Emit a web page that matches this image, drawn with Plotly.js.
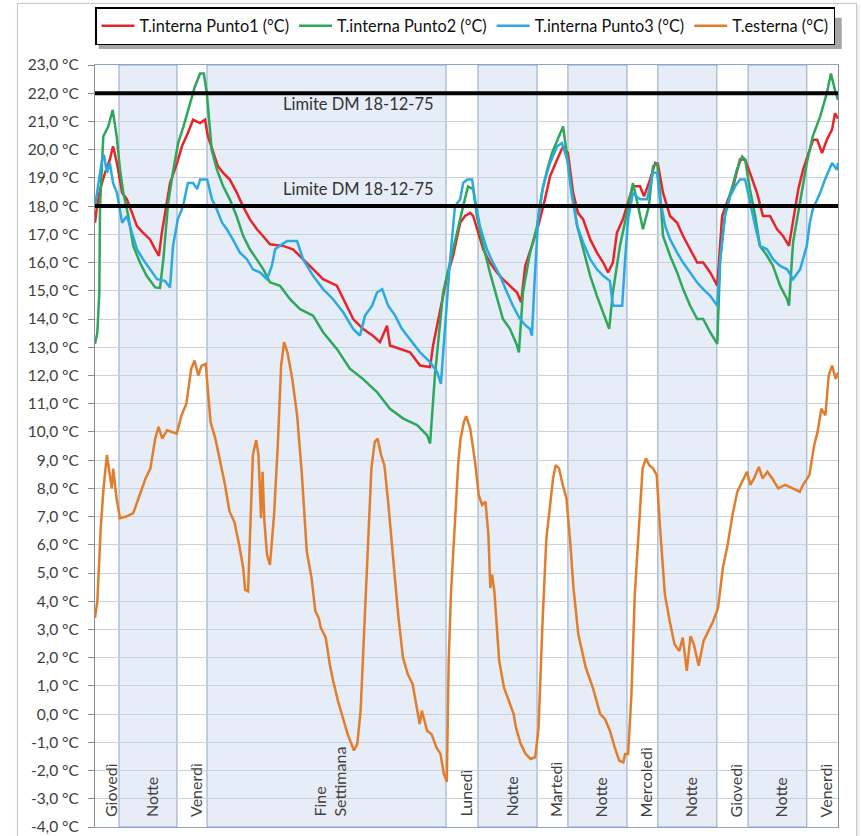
<!DOCTYPE html>
<html><head><meta charset="utf-8">
<script src="https://cdn.plot.ly/plotly-3.0.1.min.js"></script>
<style>
html,body{margin:0;padding:0;background:#fff;}
#frame{position:absolute;left:17px;top:3px;width:838px;height:850px;border:1px solid #c9c9c9;box-shadow:1px 1px 3px rgba(0,0,0,0.15);}
#chart{position:absolute;left:0;top:0;width:861px;height:836px;}
</style></head>
<body>
<div id="frame"></div>
<div id="chart"></div>
<script>
// ---- data (x = hours from start of recording) ----
const ore_p1 = [0,0.54,1.35,2.7,4.0,4.85,5.9,7.3,8.6,10.0,11.3,12.9,14.8,16.2,17.2,18.0,18.8,20.2,22.1,23.4,25.0,26.4,28.3,29.6,30.4,31.8,33.1,34.5,36.3,38.2,39.8,41.7,43.6,45.2,47.1,50.6,53.3,56.0,58.7,61.4,65.1,66.8,69.5,72.1,74.8,76.7,78.6,79.4,82.1,84.8,87.5,90.2,91.0,92.9,94.8,96.4,98.3,99.6,101.0,101.8,102.8,104.5,106.3,108.2,109.8,111.7,113.6,114.7,115.8,117.6,119.3,121.1,122.5,124.4,126.0,127.3,128.7,130.0,131.4,133.3,135.1,136.8,138.1,139.4,140.5,142.1,144.8,146.7,147.8,149.4,150.8,151.5,152.9,154.8,156.7,158.3,160.2,162.1,163.7,165.6,167.5,168.8,170.4,171.8,173.6,175.0,176.3,178.2,179.8,181.7,183.6,185.2,186.8,187.9,189.3,190.6,192.0,193.3,194.4,195.7,197.0,198.4,199.2,200];
const t_p1 = [17.41,18.0,18.59,19.18,19.65,20.12,19.53,18.47,18.24,17.76,17.29,17.06,16.82,16.47,16.24,17.06,17.76,18.82,19.53,20.12,20.59,21.06,20.94,21.06,20.47,19.88,19.41,19.18,18.94,18.47,18.0,17.53,17.18,16.94,16.65,16.59,16.47,16.12,15.76,15.41,15.18,14.7,14.0,13.65,13.41,13.18,13.76,13.06,12.94,12.82,12.35,12.3,13.06,14.24,15.53,16.24,17.41,17.65,17.76,17.65,17.18,16.47,16.0,15.65,15.41,15.18,14.94,14.59,15.88,16.59,17.29,18.24,19.06,19.65,20.12,19.88,18.47,17.76,17.53,16.82,16.35,16.0,15.65,16.0,17.06,17.53,18.7,18.7,18.35,18.94,19.53,19.5,18.47,17.65,17.41,16.94,16.47,16.0,16.0,15.65,15.18,17.65,18.24,18.7,19.65,19.65,19.18,18.47,17.65,17.65,17.18,16.94,16.59,17.53,18.59,19.29,19.88,20.35,20.35,19.88,20.35,20.71,21.29,21.1];

const ore_p2 = [0,0.62,1.16,1.35,2.23,3.58,4.76,5.84,6.73,7.62,8.96,10.3,12.1,13.9,16.2,17.5,18.4,19.7,21.1,22.4,23.8,25.6,26.9,28.3,29.3,30.1,31.4,32.8,34.5,36.3,38.1,39.9,41.7,43.5,45.3,47.1,49.8,52.5,55.2,58.7,61.4,65.1,68.6,72.1,75.9,79.4,83.0,86.7,89.4,90.2,91.5,93.7,96.1,97.5,99.1,100.4,101.8,102.8,104.5,106.3,108.2,109.8,111.7,113.6,114.1,115.2,117.1,119.0,120.3,121.7,123.0,124.4,126.0,127.1,128.4,129.8,131.4,133.3,135.1,136.8,138.4,139.4,141.3,143.2,144.8,146.2,147.5,149.1,150.2,151.3,152.1,152.9,154.8,156.7,158.3,160.2,162.1,163.7,165.6,167.5,168.3,169.6,171.0,172.8,174.2,175.0,176.3,177.7,179.0,180.9,182.5,184.4,186.3,186.8,187.9,189.8,191.6,193.2,195.2,197.0,198.1,199.2,200];
const t_p2 = [13.12,13.5,14.94,18.0,20.47,20.82,21.41,20.47,19.3,18.47,17.65,16.59,16.0,15.53,15.12,15.1,16.12,18.12,19.3,20.24,20.82,21.65,22.24,22.7,22.7,22.0,20.0,19.3,18.7,18.24,17.65,16.94,16.47,16.12,15.76,15.3,15.18,14.7,14.35,14.12,13.53,12.94,12.24,11.88,11.41,10.82,10.47,10.24,9.88,9.59,12.0,14.94,16.35,17.06,18.0,18.7,18.6,17.65,16.59,15.65,14.7,14.0,13.65,13.06,12.82,14.94,16.35,17.29,18.47,19.29,19.88,20.35,20.82,19.76,18.47,17.29,16.47,15.53,14.82,14.24,13.65,14.94,16.59,17.76,18.82,18.0,17.18,18.0,19.41,19.53,18.47,16.94,16.24,15.65,15.06,14.47,14.0,14.0,13.53,13.12,16.12,17.76,18.47,19.29,19.76,19.65,18.59,17.65,16.59,16.24,15.88,15.18,14.7,14.47,16.71,18.24,19.53,20.47,21.18,22.0,22.7,22.1,21.76];

const ore_p3 = [0,0.8,1.9,2.4,3.2,4.0,4.85,5.9,7.3,8.6,10.0,11.3,12.9,14.8,16.7,18.8,20.2,21.0,22.3,23.7,25.0,26.4,27.5,28.3,30.2,31.5,32.8,34.2,35.5,37.1,39.0,40.9,42.5,44.4,46.3,47.6,48.5,49.8,51.7,54.4,56.0,58.7,61.4,64.1,66.8,69.5,71.3,72.7,74.6,75.9,77.3,78.9,80.8,82.6,84.8,87.5,90.2,92.1,93.1,94.2,95.6,96.9,98.3,99.1,100.2,101.5,102.3,103.6,105.5,107.1,109.0,110.9,112.5,114.4,116.0,117.1,117.6,118.4,119.3,120.6,122.5,124.4,125.7,127.1,128.4,129.8,131.4,133.3,135.1,136.8,138.6,139.4,141.9,142.7,143.5,144.8,146.7,148.6,150.2,151.3,152.1,153.5,154.8,156.7,158.3,160.2,162.1,163.7,165.6,167.5,168.3,169.6,171.0,172.3,173.6,175.0,176.3,177.7,179.0,180.9,182.5,184.4,186.3,187.9,189.8,191.6,192.4,193.2,195.2,196.5,198.4,199.7,200];
const t_p3 = [18.0,18.7,19.65,19.82,19.18,19.53,18.82,18.47,17.41,17.65,17.06,16.47,16.12,15.76,15.41,15.35,15.12,16.59,17.53,18.0,18.82,18.82,18.6,18.94,18.94,18.24,17.88,17.41,17.18,16.82,16.35,16.12,15.76,15.65,15.41,15.88,16.47,16.6,16.76,16.76,16.12,15.53,15.06,14.7,14.24,13.65,13.41,14.12,14.47,14.94,15.06,14.47,14.12,13.65,13.29,12.82,12.47,12.12,11.7,13.76,16.12,18.0,18.24,18.82,18.94,18.94,18.24,17.29,16.47,16.0,15.53,14.94,14.47,14.0,13.76,13.65,13.41,15.53,17.53,18.7,19.53,20.12,20.24,19.65,18.35,17.29,16.71,16.12,15.76,15.53,15.35,14.47,14.47,16.12,17.53,18.47,18.24,18.24,19.18,19.18,18.24,17.29,16.82,16.35,16.0,15.65,15.29,15.06,14.82,14.47,16.12,17.65,18.35,18.7,18.94,18.94,18.12,17.29,16.59,16.47,16.12,15.88,15.76,15.41,15.76,16.59,17.41,17.88,18.47,18.94,19.53,19.29,19.53];

const ore_est = [0,0.63,1.54,2.3,3.2,3.9,4.5,4.9,5.8,6.7,8.4,10.3,12.3,13.6,14.9,16.2,17.1,18.1,19.4,20.7,22.0,23.3,24.6,25.9,26.8,27.8,28.7,29.8,30.4,31.1,32.4,33.7,35.0,36.2,37.5,38.8,39.9,40.4,41.2,41.8,42.5,43.4,44.0,44.7,45.1,45.6,46.3,47.1,48.2,49.2,50.1,50.9,51.8,53.1,54.4,55.7,57.0,58.3,59.3,60.2,60.8,62.1,63.2,64.1,65.4,66.7,68.0,69.7,70.6,71.5,72.5,73.5,74.4,75.3,76.1,77.0,77.9,78.9,80.3,81.6,82.9,84.2,85.5,86.7,87.4,88.0,89.4,90.6,91.9,93.0,93.9,94.7,95.2,95.8,96.8,97.8,98.4,99.3,99.9,101.0,102.3,103.3,104.2,105.1,105.9,106.4,106.9,107.5,108.8,110.1,111.4,112.7,113.3,114.6,115.9,117.2,118.5,119.4,120.4,121.5,122.4,123.3,124.0,124.9,125.9,126.9,127.9,128.8,130.1,132.1,134.0,136.0,137.3,138.6,139.9,141.1,142.2,142.7,143.5,144.4,145.3,146.3,147.4,148.3,149.2,150.2,151.2,152.1,153.4,154.7,156.0,157.3,158.2,159.3,160.3,161.2,162.5,163.8,165.1,166.4,167.7,169.0,170.3,171.6,172.9,174.2,175.5,176.4,177.4,178.7,179.7,181.0,182.3,183.9,185.8,187.8,189.7,190.6,192.3,193.6,194.5,195.5,196.6,197.5,198.4,199.4,200];
const t_est = [3.41,4.0,6.59,8.0,9.18,8.59,8.0,8.7,7.65,6.94,7.0,7.12,7.88,8.35,8.7,9.76,10.18,9.76,10.06,10.0,9.94,10.59,11.0,12.24,12.53,12.0,12.35,12.41,11.29,10.35,9.76,8.94,8.12,7.18,6.82,6.0,5.18,4.41,4.35,6.59,9.18,9.71,9.18,6.94,8.59,6.82,5.65,5.29,7.06,9.53,12.35,13.18,12.82,11.88,10.59,8.47,5.76,4.82,3.65,3.41,3.06,2.71,1.76,1.18,0.47,-0.12,-0.71,-1.29,-1.06,0.12,3.06,6.35,8.71,9.65,9.76,9.18,8.82,7.53,5.41,3.53,2.0,1.41,1.06,0.24,-0.35,0.12,-0.59,-0.71,-1.18,-1.41,-2.12,-2.4,1.88,4.24,6.59,8.94,9.76,10.35,10.56,10.12,8.94,7.76,7.41,7.53,6.35,4.47,4.94,4.35,1.88,0.94,0.47,0.0,-0.47,-1.06,-1.41,-1.59,-1.53,-0.47,3.06,6.24,7.29,8.35,8.82,8.71,8.12,7.65,6.12,4.47,2.82,1.65,0.94,0.0,-0.18,-0.59,-1.18,-1.65,-1.71,-1.41,-1.41,0.71,4.24,6.59,8.71,9.06,8.82,8.71,8.47,6.59,4.24,3.29,2.47,2.24,2.71,1.53,2.76,2.47,1.71,2.59,2.94,3.29,3.76,5.18,6.0,7.06,7.88,8.24,8.59,8.12,8.35,8.76,8.35,8.59,8.35,8.0,8.12,8.0,7.88,8.12,8.47,9.53,10.0,10.82,10.59,12.0,12.35,11.88,12.1];

// period boundaries (hours) and labels; shaded = night / weekend
const confini = [0,6.46,22.07,30.15,94.5,103.1,119.0,127.3,143.2,151.5,167.4,175.8,191.6,200];
const periodi = ["Giovedì","Notte","Venerdì","Fine<br>Settimana","Lunedì","Notte","Martedì","Notte","Mercoledì","Notte","Giovedì","Notte","Venerdì"];
const ombreggiato = [false,true,false,true,false,true,false,true,false,true,false,true,false];

const limiti = [22, 18];
const limiteTesto = "Limite DM 18-12-75";

const yTicks = [];
for (let v = -4; v <= 23; v++) yTicks.push(v);
const yTickText = yTicks.map(v => v.toFixed(1).replace('.', ',') + ' °C');

// ---- build ----
const FONT = 'Lato, "Open Sans", sans-serif';
const lw = 2.5;
const traces = [
  {x: ore_p1, y: t_p1, name: 'T.interna Punto1 (°C)', mode: 'lines', line: {color: '#E8242B', width: lw}},
  {x: ore_p2, y: t_p2, name: 'T.interna Punto2 (°C)', mode: 'lines', line: {color: '#2DA75C', width: lw}},
  {x: ore_p3, y: t_p3, name: 'T.interna Punto3 (°C)', mode: 'lines', line: {color: '#2BAAE2', width: lw}},
  {x: ore_est, y: t_est, name: 'T.esterna (°C)', mode: 'lines', line: {color: '#E27D2C', width: lw}}
];
limiti.forEach(l => traces.push({x: [confini[0], confini[confini.length-1]], y: [l, l], mode: 'lines',
  line: {color: '#000', width: 4}, showlegend: false, hoverinfo: 'skip'}));

const shapes = [];
const annotations = [];
for (let i = 0; i < periodi.length; i++) {
  if (ombreggiato[i]) {
    shapes.push({type: 'rect', xref: 'x', yref: 'y', x0: confini[i], x1: confini[i+1], y0: -4, y1: 23,
      fillcolor: '#E6EDF7', line: {color: '#8FA5C6', width: 1}, layer: 'below'});
  }
  annotations.push({x: (confini[i] + confini[i+1]) / 2, y: -4, xref: 'x', yref: 'y', text: periodi[i],
    textangle: -90, showarrow: false, xanchor: 'center', yanchor: 'bottom', yshift: 8, xshift: 3, align: 'left',
    font: {family: FONT, size: 16, color: '#404040'}});
}
annotations.push({x: 70.9, y: 21.62, xref: 'x', yref: 'y', text: limiteTesto, showarrow: false,
  font: {family: FONT, size: 16.5, color: '#333'}});
annotations.push({x: 70.9, y: 18.59, xref: 'x', yref: 'y', text: limiteTesto, showarrow: false,
  font: {family: FONT, size: 16.5, color: '#333'}});
// legend drop shadow
shapes.push({type: 'rect', xref: 'paper', yref: 'paper', x0: 0.005, x1: 1.005, y0: 1.021, y1: 1.062,
  fillcolor: 'rgba(0,0,0,0.35)', line: {width: 0}, layer: 'above'});

const layout = {
  width: 861, height: 836,
  margin: {l: 95, r: 23, t: 65, b: 9, autoexpand: false},
  paper_bgcolor: 'rgba(0,0,0,0)', plot_bgcolor: '#fff',
  font: {family: FONT, size: 14, color: '#404040'},
  xaxis: {range: [0, 200], showticklabels: false, ticks: '', showgrid: false, zeroline: false,
    showline: true, mirror: true, linecolor: '#8FA5C6', linewidth: 1},
  yaxis: {range: [-4, 23], tickvals: yTicks, ticktext: yTickText, ticks: 'outside', ticklen: 6,
    tickcolor: '#8c8c8c', showgrid: true, gridcolor: '#C8D1DE', gridwidth: 1, zeroline: false,
    showline: true, mirror: true, linecolor: '#8c8c8c', linewidth: 1, ticklabelstandoff: 6,
    ticklabeloverflow: 'allow',
    tickfont: {family: FONT, size: 15.5, color: '#404040'}},
  legend: {orientation: 'h', x: 0, xanchor: 'left', y: 1.026, yanchor: 'bottom',
    bordercolor: '#000', borderwidth: 1.5, bgcolor: '#fff',
    font: {family: FONT, size: 16.3, color: '#111'}, itemwidth: 33, tracegroupgap: 0},
  shapes: shapes,
  annotations: annotations,
  showlegend: true
};
Plotly.newPlot('chart', traces, layout, {displayModeBar: false, staticPlot: true});
</script>
</body></html>
